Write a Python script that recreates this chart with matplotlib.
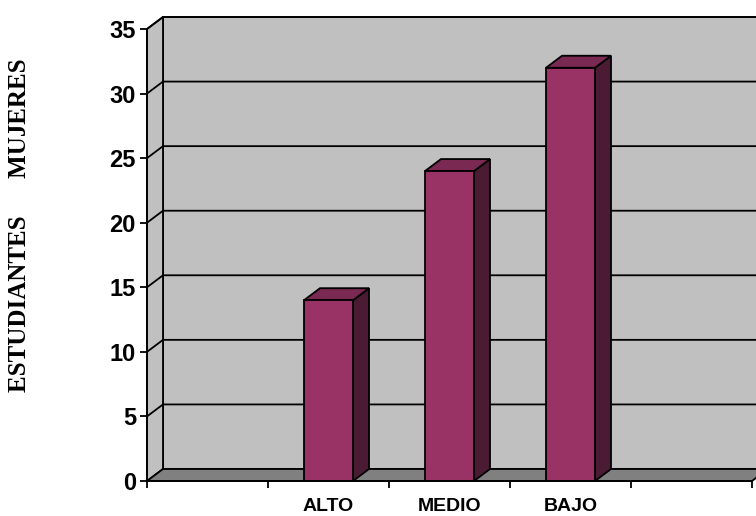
import matplotlib.pyplot as plt
from matplotlib.patches import Polygon, Rectangle

# data
categories = ["", "ALTO", "MEDIO", "BAJO", ""]
values = [None, 14, 24, 32, None]
y_ticks = [0, 5, 10, 15, 20, 25, 30, 35]
y_label = "ESTUDIANTES" + " " * 6 + "MUJERES"

# colours (Excel 3D column look)
c_front = "#993366"
c_top = "#7a2952"
c_side = "#4b1a33"
c_wall = "#c0c0c0"
c_floor = "#808080"

W, H = 756, 516
fig = plt.figure(figsize=(W / 100, H / 100), dpi=100)

# front plane of the 3D box in pixels
x0, x1 = 147, 752
y_bot, y_top = 481, 29
ax = fig.add_axes([x0 / W, 1 - y_bot / H, (x1 - x0) / W, (y_bot - y_top) / H])

n = len(categories)
ymax = 35
ax.set_xlim(0, n)
ax.set_ylim(0, ymax)

# depth offset (px -> data units)
dx = 16 * n / (x1 - x0)
dy = 12 * ymax / (y_bot - y_top)

lw = 1.3
# back wall
ax.add_patch(Rectangle((dx, dy), n, ymax, facecolor=c_wall, edgecolor="black",
                       lw=lw, clip_on=False, zorder=1))
# left side wall
ax.add_patch(Polygon([(0, 0), (dx, dy), (dx, ymax + dy), (0, ymax)], closed=True,
                     facecolor=c_wall, edgecolor="black", lw=lw, clip_on=False, zorder=1))
# gridlines on walls
for v in y_ticks[1:]:
    ax.plot([0, dx, n + dx], [v, v + dy, v + dy], color="black", lw=lw,
            clip_on=False, zorder=2)
# floor
ax.add_patch(Polygon([(0, 0), (n, 0), (n + dx, dy), (dx, dy)], closed=True,
                     facecolor=c_floor, edgecolor="black", lw=lw, clip_on=False, zorder=3))

# bars
bw = 0.405
for i, v in enumerate(values):
    if v is None:
        continue
    xl = i + 0.5 - bw / 2
    xr = xl + bw
    ax.bar(i + 0.5, v, width=bw, color=c_front, edgecolor="black", lw=lw, zorder=5)
    ax.add_patch(Polygon([(xr, 0), (xr + dx, dy), (xr + dx, v + dy), (xr, v)], closed=True,
                         facecolor=c_side, edgecolor="black", lw=lw, clip_on=False, zorder=4))
    ax.add_patch(Polygon([(xl, v), (xr, v), (xr + dx, v + dy), (xl + dx, v + dy)], closed=True,
                         facecolor=c_top, edgecolor="black", lw=lw, clip_on=False, zorder=4))

ax.set_facecolor("none")
for s in ["top", "right"]:
    ax.spines[s].set_visible(False)
for s in ["left", "bottom"]:
    ax.spines[s].set_linewidth(lw)
    ax.spines[s].set_zorder(6)

ax.set_yticks(y_ticks)
ax.set_yticklabels([str(t) for t in y_ticks], fontsize=17, fontweight="bold",
                   fontname="Liberation Sans")
ax.tick_params(axis="y", direction="out", length=5, width=lw, pad=3)

ax.set_xticks(range(n + 1))
ax.set_xticklabels([])
ax.tick_params(axis="x", which="major", direction="out", length=5, width=lw)
ax.set_xticks([i + 0.5 for i in range(n)], minor=True)
ax.set_xticklabels(categories, minor=True, fontsize=14, fontweight="bold",
                   fontname="Liberation Sans")
ax.tick_params(axis="x", which="minor", length=0, pad=12)

fig.text(20 / W, 1 - 225 / H, y_label, rotation=90, ha="center", va="center",
         fontsize=18, fontweight="bold", fontname="Liberation Serif")

fig.savefig("out.png", dpi=100)
